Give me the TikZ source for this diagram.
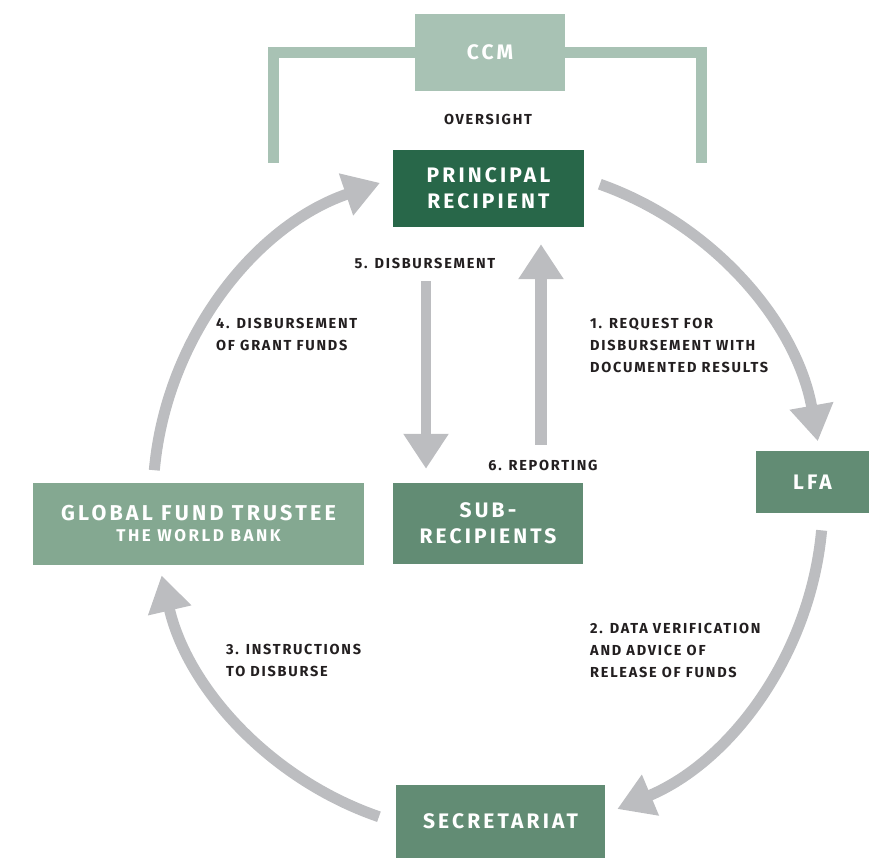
\documentclass[tikz,border=0pt]{standalone}
\usepackage{fontspec}
\setmainfont{Fira Sans}
\newfontfamily\trk{Fira Sans}[LetterSpace=15]
\newfontfamily\trl{Fira Sans}[LetterSpace=12]
\usetikzlibrary{arrows.meta,calc}
\definecolor{ccmc}{HTML}{A8C2B4}
\definecolor{prc}{HTML}{286749}
\definecolor{medc}{HTML}{628C74}
\definecolor{gftc}{HTML}{84A891}
\definecolor{arrc}{HTML}{BCBDC0}
\definecolor{txtc}{HTML}{231F20}
\begin{document}
\begin{tikzpicture}[x=1pt,y=1pt,
  box/.style={fill=#1, text=white, inner sep=0pt, align=center,
    font=\trk\bfseries\fontsize{21}{26}\selectfont},
  lbl/.style={text=txtc, align=left, inner sep=0pt,
    font=\trl\bfseries\fontsize{14.5}{22}\selectfont},
  carr/.style={draw=arrc, line width=11pt, -{Triangle[length=36pt,width=42pt]}},
  varr/.style={draw=arrc, line width=#1, -{Triangle[length=35pt,width=43pt]}},
  brk/.style={draw=ccmc, line width=11pt, line join=miter}
  ]
\useasboundingbox (0,0) rectangle (881,858);
% nodes
\node[box=ccmc, minimum width=150pt, minimum height=77pt] (ccm) at (490,805.5) {CCM};
\node[box=prc, minimum width=191pt, minimum height=77pt] (pr) at (488.5,669.5) {PRINCIPAL\\RECIPIENT};
\node[box=medc, minimum width=113pt, minimum height=62pt] (lfa) at (812.5,376) {LFA};
\node[box=medc, minimum width=190pt, minimum height=81pt] (sr) at (488,334.5) {SUB-\\RECIPIENTS};
\node[box=gftc, minimum width=331pt, minimum height=82pt,
  font=\trk\bfseries\fontsize{21.5}{21}\selectfont] (gft) at (198.5,334)
  {GLOBAL FUND TRUSTEE\\{\fontsize{17}{21}\selectfont THE WORLD BANK}};
\node[box=medc, minimum width=209pt, minimum height=73pt] (sec) at (500.5,36.5) {SECRETARIAT};
% labels
\node[lbl] (over) at (488,739) {OVERSIGHT};
\node[lbl] (l5) at (425,595) {5. DISBURSEMENT};
\node[lbl] (l6) at (543,393) {6. REPORTING};
\node[lbl, anchor=west] (l1) at (590,513) {1. REQUEST FOR\\DISBURSEMENT WITH\\DOCUMENTED RESULTS};
\node[lbl, anchor=west] (l2) at (590,208) {2. DATA VERIFICATION\\AND ADVICE OF\\RELEASE OF FUNDS};
\node[lbl, anchor=west] (l3) at (226,198) {3. INSTRUCTIONS\\TO DISBURSE};
\node[lbl, anchor=west] (l4) at (216,524) {4. DISBURSEMENT\\OF GRANT FUNDS};
% oversight bracket
\coordinate (bl) at (273.5,695);
\coordinate (br) at (701.5,695);
\draw[brk] (bl) |- (ccm.west);
\draw[brk] (ccm.east) -| (br);
% circular cycle
\coordinate (C) at (488,358);
\coordinate (a1) at ($(C)+(70.5:335)$);
\coordinate (a2) at ($(C)+(-5.2:335)$);
\coordinate (a3) at ($(C)+(-109:335)$);
\coordinate (a4) at ($(C)+(174.9:335)$);
\draw[carr] (a1) arc[start angle=70.5, end angle=10.1, radius=335];
\draw[carr] (a2) arc[start angle=-5.2, end angle=-67.3, radius=335];
\draw[carr] (a3) arc[start angle=-109, end angle=-167, radius=335];
\draw[carr] (a4) arc[start angle=174.9, end angle=108.8, radius=335];
% vertical arrows
\coordinate (dnx) at (426,0);
\coordinate (upx) at (541,0);
\draw[varr=10.5pt, shorten <=54pt, shorten >=14pt] (pr.south -| dnx) -- (sr.north -| dnx);
\draw[varr=12.5pt, shorten <=38pt, shorten >=17pt] (sr.north -| upx) -- (pr.south -| upx);
\end{tikzpicture}
\end{document}
